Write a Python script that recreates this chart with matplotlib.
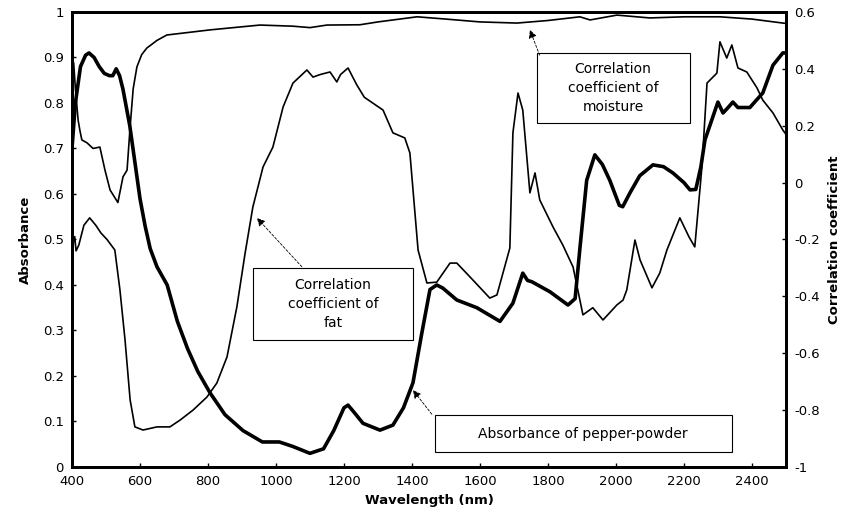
import matplotlib
matplotlib.use("Agg")
import matplotlib.pyplot as plt
from matplotlib.patches import Rectangle

# absorbance of pepper-powder (left axis)
abs_nm = [400, 410, 425, 440, 450, 465, 480, 495, 510, 520, 530, 540, 550, 560, 570, 585,
          600, 615, 630, 650, 680, 710, 740, 770, 806, 850, 903, 960, 1010, 1050, 1100,
          1140, 1170, 1200, 1212, 1230, 1256, 1306, 1344, 1375, 1403, 1429, 1453, 1473,
          1491, 1532, 1591, 1659, 1697, 1726, 1740, 1753, 1806, 1859, 1880, 1894, 1914,
          1938, 1960, 1982, 2010, 2020, 2041, 2070, 2109, 2140, 2168, 2200, 2218, 2235,
          2250, 2262, 2300, 2315, 2330, 2344, 2359, 2394, 2432, 2462, 2491, 2500]
abs_val = [0.70, 0.80, 0.88, 0.905, 0.91, 0.90, 0.88, 0.865, 0.86, 0.86, 0.875, 0.86, 0.83,
           0.79, 0.75, 0.67, 0.59, 0.53, 0.48, 0.44, 0.40, 0.32, 0.26, 0.21, 0.163, 0.115,
           0.08, 0.055, 0.055, 0.045, 0.03, 0.04, 0.08, 0.13, 0.136, 0.12, 0.096, 0.081,
           0.092, 0.13, 0.185, 0.294, 0.39, 0.40, 0.393, 0.367, 0.35, 0.32, 0.36, 0.426,
           0.41, 0.407, 0.385, 0.356, 0.37, 0.48, 0.63, 0.686, 0.665, 0.63, 0.575, 0.572,
           0.602, 0.64, 0.664, 0.66, 0.646, 0.625, 0.609, 0.61, 0.66, 0.719, 0.802, 0.778,
           0.79, 0.802, 0.79, 0.79, 0.822, 0.883, 0.91, 0.91]

# correlation coefficient of moisture (right axis)
moist_nm = [400, 405, 410, 418, 423, 429, 444, 462, 482, 497, 512, 535, 550, 562, 571, 580,
            591, 605, 620, 650, 679, 806, 953, 1050, 1100, 1150, 1247, 1300, 1415, 1500,
            1600, 1709, 1800, 1894, 1924, 2003, 2100, 2200, 2306, 2400, 2491, 2500]
moist_val = [0.44, 0.42, 0.33, 0.22, 0.185, 0.15, 0.14, 0.12, 0.125, 0.044, -0.026, -0.07,
             0.02, 0.044, 0.196, 0.33, 0.407, 0.45, 0.473, 0.50, 0.519, 0.537, 0.554, 0.55,
             0.545, 0.554, 0.555, 0.565, 0.583, 0.575, 0.565, 0.561, 0.57, 0.583, 0.572,
             0.589, 0.579, 0.583, 0.583, 0.575, 0.561, 0.56]

# correlation coefficient of fat (right axis)
fat_nm = [400, 404, 408, 412, 420, 435, 452, 470, 485, 503, 526, 541, 556, 571, 585, 609,
          650, 688, 718, 756, 797, 826, 856, 885, 909, 932, 962, 991, 1021, 1050, 1091,
          1109, 1130, 1159, 1179, 1190, 1212, 1238, 1260, 1315, 1344, 1379, 1394, 1418,
          1444, 1473, 1512, 1532, 1571, 1629, 1650, 1688, 1697, 1712, 1726, 1747, 1762,
          1776, 1815, 1844, 1874, 1903, 1932, 1962, 2003, 2021, 2032, 2056, 2071, 2106,
          2129, 2150, 2188, 2215, 2232, 2253, 2268, 2297, 2306, 2326, 2341, 2359, 2385,
          2415, 2432, 2462, 2491, 2500]
fat_val = [-0.30, -0.21, -0.19, -0.24, -0.22, -0.15, -0.124, -0.15, -0.177, -0.2, -0.237,
           -0.377, -0.553, -0.764, -0.859, -0.87, -0.859, -0.859, -0.835, -0.80, -0.754,
           -0.705, -0.613, -0.437, -0.25, -0.086, 0.055, 0.125, 0.266, 0.35, 0.396, 0.371,
           0.38, 0.389, 0.354, 0.38, 0.403, 0.343, 0.30, 0.255, 0.175, 0.157, 0.104,
           -0.237, -0.353, -0.35, -0.283, -0.283, -0.332, -0.406, -0.395, -0.23, 0.175,
           0.315, 0.255, -0.036, 0.034, -0.061, -0.156, -0.22, -0.297, -0.465, -0.44,
           -0.483, -0.43, -0.413, -0.377, -0.202, -0.272, -0.37, -0.318, -0.237, -0.124,
           -0.191, -0.226, 0.055, 0.35, 0.385, 0.495, 0.438, 0.484, 0.403, 0.389, 0.333,
           0.29, 0.245, 0.185, 0.17]

x_ticks = [400, 600, 800, 1000, 1200, 1400, 1600, 1800, 2000, 2200, 2400]
left_ticks = [0, 0.1, 0.2, 0.3, 0.4, 0.5, 0.6, 0.7, 0.8, 0.9, 1]
left_labels = ["0", "0.1", "0.2", "0.3", "0.4", "0.5", "0.6", "0.7", "0.8", "0.9", "1"]
right_ticks = [-1, -0.8, -0.6, -0.4, -0.2, 0, 0.2, 0.4, 0.6]
right_labels = ["-1", "-0.8", "-0.6", "-0.4", "-0.2", "0", "0.2", "0.4", "0.6"]

plt.rcParams['font.family'] = ['DejaVu Sans']
fig = plt.figure(figsize=(8.56, 5.25), dpi=100)
ax = fig.add_axes([0.0841, 0.1105, 0.834, 0.8667])
ax2 = ax.twinx()

ax.plot(abs_nm, abs_val, color='black', lw=2.6)
ax2.plot(moist_nm, moist_val, color='black', lw=1.2)
ax2.plot(fat_nm, fat_val, color='black', lw=1.2)

ax.set_xlim(400, 2500)
ax.set_ylim(0, 1)
ax2.set_ylim(-1, 0.6)
ax.set_xticks(x_ticks)
ax.set_yticks(left_ticks)
ax.set_yticklabels(left_labels)
ax2.set_yticks(right_ticks)
ax2.set_yticklabels(right_labels)

for a in (ax, ax2):
    for s in a.spines.values():
        s.set_linewidth(2)
    a.tick_params(direction='in', length=3, width=1, labelsize=9.5, pad=6)

ax.set_xlabel("Wavelength (nm)", fontsize=9.5, fontweight='bold', labelpad=4)
ax.set_ylabel("Absorbance", fontsize=9.5, fontweight='bold', labelpad=8)
ax2.set_ylabel("Correlation coefficient", fontsize=9.5, fontweight='bold', labelpad=6)

# text boxes (axes fraction)
boxes = [
    (0.651, 0.756, 0.214, 0.154, "Correlation\ncoefficient of\nmoisture"),
    (0.2535, 0.279, 0.224, 0.158, "Correlation\ncoefficient of\nfat"),
    (0.508, 0.033, 0.416, 0.081, "Absorbance of pepper-powder"),
]
for x0, y0, w, h, txt in boxes:
    ax2.add_patch(Rectangle((x0, y0), w, h, transform=ax2.transAxes, fill=True,
                            facecolor='white', edgecolor='black', lw=0.8, zorder=5))
    ax2.text(x0 + w / 2, y0 + h / 2, txt, transform=ax2.transAxes, ha='center',
             va='center', fontsize=10, linespacing=1.45, zorder=6)

arrow = dict(arrowstyle='-|>', color='black', lw=0.6, linestyle=(0, (3, 2)),
             mutation_scale=12, shrinkA=0, shrinkB=0)
ax2.annotate("", xy=(1747, 0.537), xytext=(0.655, 0.905), textcoords='axes fraction',
             arrowprops=arrow, zorder=6)
ax2.annotate("", xy=(944, 0.6 - (218 - 12) / 284.4), xytext=(0.322, 0.44),
             textcoords='axes fraction', arrowprops=arrow, zorder=6)
ax.annotate("", xy=(1403, 0.169), xytext=(0.504, 0.116), textcoords='axes fraction',
            arrowprops=arrow, zorder=6)

fig.savefig("out.png", dpi=100)
